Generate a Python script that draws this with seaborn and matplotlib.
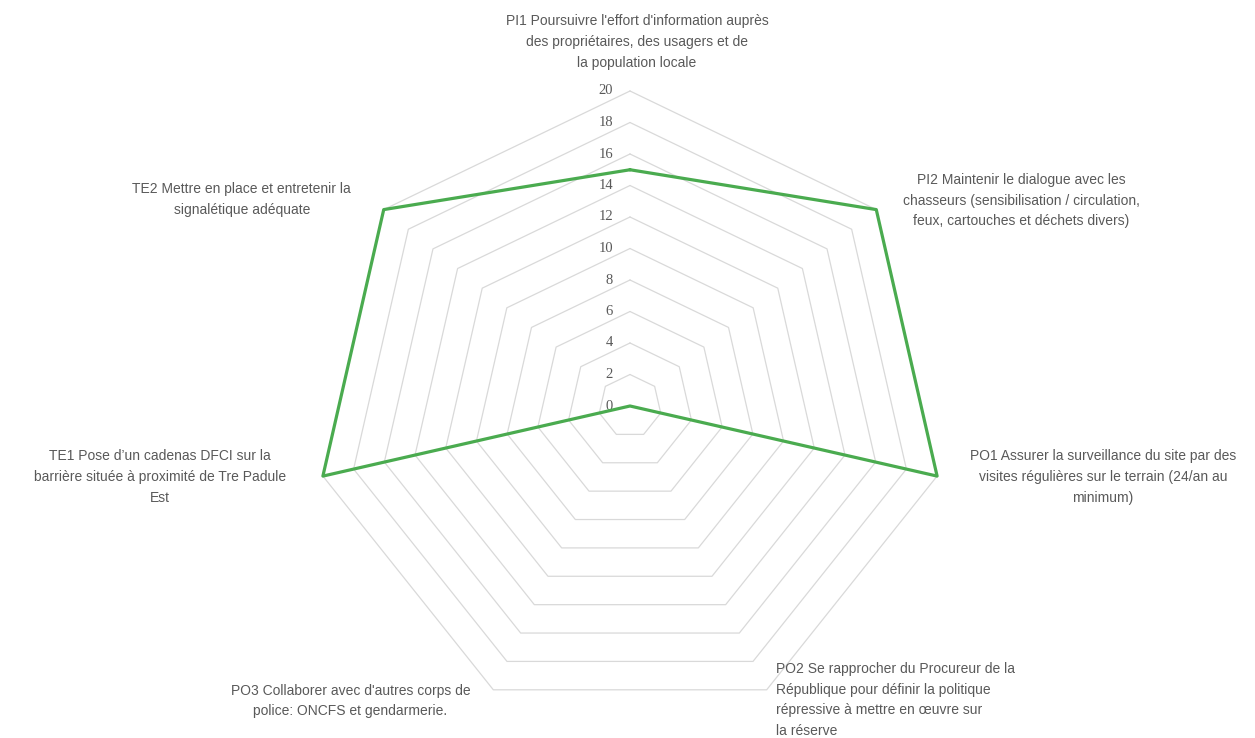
import numpy as np
import pandas as pd
import matplotlib
matplotlib.use('Agg')
import matplotlib.pyplot as plt
import seaborn as sns

# Données du radar
categories = [
    "PI1 Poursuivre l'effort d'information auprès\ndes propriétaires, des usagers et de\nla population locale",
    "PI2 Maintenir le dialogue avec les\nchasseurs (sensibilisation / circulation,\nfeux, cartouches et déchets divers)",
    "PO1 Assurer la surveillance du site par des\nvisites régulières sur le terrain (24/an au\nminimum)",
    "PO2 Se rapprocher du Procureur de la\nRépublique pour définir la politique\nrépressive à mettre en œuvre sur\nla réserve",
    "PO3 Collaborer avec d'autres corps de\npolice: ONCFS et gendarmerie.",
    "TE1 Pose d’un cadenas DFCI sur la\nbarrière située à proximité de Tre Padule\nEst",
    "TE2 Mettre en place et entretenir la\nsignalétique adéquate",
]
scores = [15, 20, 20, 0, 0, 20, 20]
ticks = list(range(0, 21, 2))

# placement des étiquettes : décalage (px) depuis le sommet extérieur + alignement
label_layout = [
    (7, 49, 'center'),
    (145, 9, 'center'),
    (166, -1, 'center'),
    (9, -10, 'left'),
    (-143, -11, 'center'),
    (-163, -1, 'center'),
    (-142, 10, 'center'),
]

sns.set_theme(style='white')
plt.rcParams['font.family'] = ['Liberation Sans', 'DejaVu Sans']

gris = '#595959'
vert = '#4aab4f'
grille = '#d9d9d9'

n = len(categories)
angles = np.linspace(0, 2 * np.pi, n, endpoint=False)
df = pd.DataFrame({'angle': np.append(angles, angles[0]),
                   'score': scores + [scores[0]]})

fig = plt.figure(figsize=(12.55, 7.38), dpi=100)
ax = fig.add_axes([315 / 1255, 17 / 738, 630 / 1255, 630 / 738], projection='polar')
ax.set_theta_offset(np.pi / 2)
ax.set_theta_direction(-1)
ax.set_ylim(0, max(ticks))
ax.axis('off')

# grille polygonale
ring_angles = np.append(angles, angles[0])
for t in ticks[1:]:
    ax.plot(ring_angles, [t] * len(ring_angles), color=grille, lw=0.9,
            clip_on=False, zorder=1)

# valeurs des graduations sur l'axe du haut
for t in ticks:
    ax.annotate(str(t), xy=(0, t), xytext=(-17, 0), textcoords='offset pixels',
                ha='right', va='center', fontsize=10.5, color=gris,
                family=['Liberation Serif', 'DejaVu Serif'], zorder=2)

# série
sns.lineplot(data=df, x='angle', y='score', sort=False, estimator=None,
             color=vert, linewidth=2.3, ax=ax, zorder=3)
for line in ax.lines:
    line.set_clip_on(False)

# étiquettes des catégories
for ang, lab, (dx, dy, ha) in zip(angles, categories, label_layout):
    ax.annotate(lab, xy=(ang, max(ticks)), xytext=(dx, dy),
                textcoords='offset pixels', ha=ha, va='center',
                multialignment=ha, fontsize=10, color=gris, linespacing=1.6)

fig.savefig('out.png', dpi=100)
